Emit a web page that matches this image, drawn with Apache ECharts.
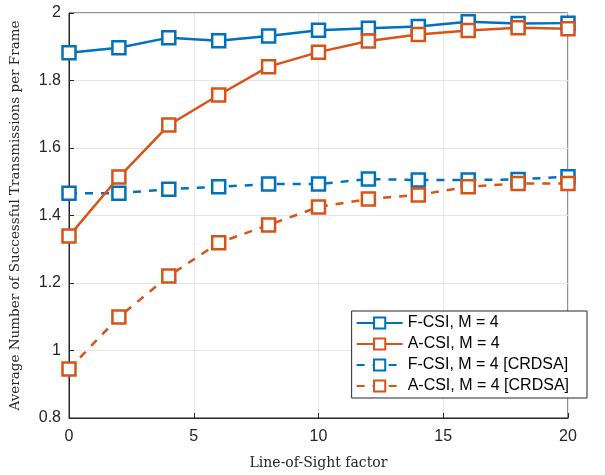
<!DOCTYPE html>
<html><head><meta charset="utf-8">
<script src="https://cdn.jsdelivr.net/npm/echarts@6/dist/echarts.min.js"></script>
<style>html,body{margin:0;padding:0;background:#fff}#c{width:605px;height:475px}</style>
</head><body><div id="c"></div>
<script>
const losFactor = [0, 2, 4, 6, 8, 10, 12, 14, 16, 18, 20];
const fcsi = [1.882, 1.897, 1.927, 1.918, 1.932, 1.949, 1.955, 1.960, 1.974, 1.969, 1.970];
const acsi = [1.339, 1.514, 1.668, 1.757, 1.841, 1.884, 1.917, 1.936, 1.948, 1.956, 1.953];
const fcsiCrdsa = [1.466, 1.466, 1.478, 1.485, 1.493, 1.493, 1.508, 1.505, 1.505, 1.507, 1.515];
const acsiCrdsa = [0.945, 1.099, 1.221, 1.319, 1.372, 1.425, 1.449, 1.461, 1.485, 1.495, 1.495];
const seriesNames = ['F-CSI, M = 4', 'A-CSI, M = 4', 'F-CSI, M = 4 [CRDSA]', 'A-CSI, M = 4 [CRDSA]'];

const BLUE = '#0072BD', ORANGE = '#D95319';
function mk(name, ys, color, dashed) {
  return {
    name, type: 'line', data: losFactor.map((x, i) => [x, ys[i]]),
    symbol: 'rect', symbolSize: 13,
    itemStyle: { color: '#fff', borderColor: color, borderWidth: 2.5 },
    lineStyle: { color, width: 2.5, type: dashed ? [8, 8] : 'solid' },
    emphasis: { disabled: true }, animation: false, z: dashed ? 2 : 3
  };
}
const chart = echarts.init(document.getElementById('c'));
const axisCol = '#262626';
chart.setOption({
  animation: false,
  grid: { left: 69, right: 37, top: 13, bottom: 57, show: true, borderColor: axisCol, borderWidth: 1, backgroundColor: '#fff' },
  legend: {
    data: seriesNames, orient: 'vertical', right: 18, top: 311,
    backgroundColor: '#fff', borderColor: axisCol, borderWidth: 1,
    padding: [4, 18, 4, 4], itemGap: 5, itemWidth: 46, itemHeight: 14,
    textStyle: { fontFamily: 'Liberation Sans', fontSize: 16, color: '#000' }
  },
  xAxis: {
    type: 'value', min: 0, max: 20, interval: 5,
    name: 'Line-of-Sight factor', nameLocation: 'middle', nameGap: 38,
    nameTextStyle: { fontFamily: 'DejaVu Serif', fontSize: 14, color: '#262626' },
    axisLine: { show: true, lineStyle: { color: axisCol } },
    axisTick: { inside: true, length: 5, lineStyle: { color: axisCol } },
    axisLabel: { fontFamily: 'Liberation Sans', fontSize: 16, color: '#262626', margin: 11 },
    splitLine: { show: true, lineStyle: { color: '#e6e6e6' } }
  },
  yAxis: {
    type: 'value', min: 0.8, max: 2, interval: 0.2,
    name: 'Average Number of Successful Transmissions per Frame', nameLocation: 'middle', nameGap: 47,
    nameTextStyle: { fontFamily: 'DejaVu Serif', fontSize: 13.5, color: '#262626' },
    axisLine: { show: true, lineStyle: { color: axisCol } },
    axisTick: { inside: true, length: 5, lineStyle: { color: axisCol } },
    axisLabel: { fontFamily: 'Liberation Sans', fontSize: 16, color: '#262626', margin: 8,
      formatter: v => String(Math.round(v * 10) / 10) },
    splitLine: { show: true, lineStyle: { color: '#e6e6e6' } }
  },
  series: [
    mk(seriesNames[0], fcsi, BLUE, false),
    mk(seriesNames[1], acsi, ORANGE, false),
    mk(seriesNames[2], fcsiCrdsa, BLUE, true),
    mk(seriesNames[3], acsiCrdsa, ORANGE, true)
  ]
});
</script></body></html>
